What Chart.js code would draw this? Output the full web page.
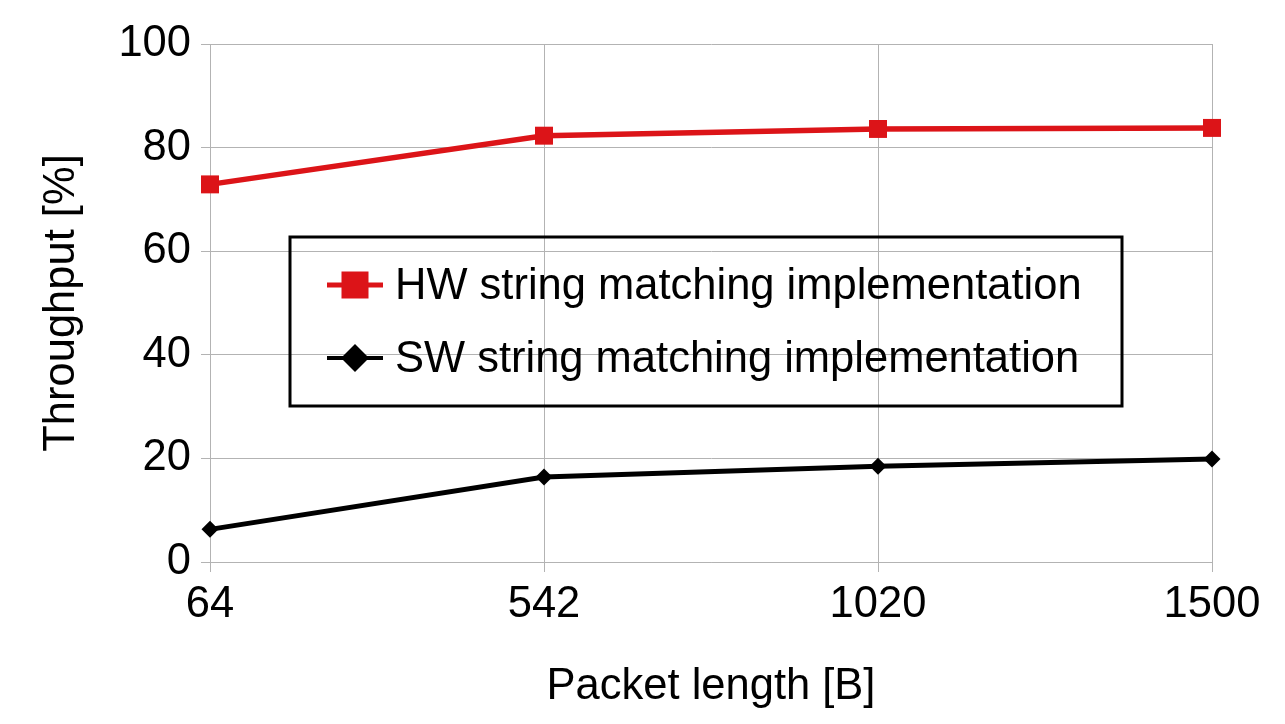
<!DOCTYPE html>
<html lang="en">
<head>
  <meta charset="UTF-8">
  <title>Throughput vs packet length</title>
  <script src="https://cdn.jsdelivr.net/npm/chart.js"></script>
  <style>
    html, body { margin: 0; padding: 0; background: #fff; }
    #wrap { width: 1285px; height: 724px; }
  </style>
</head>
<body>
  <div id="wrap"><canvas id="myLineChart"></canvas></div>

  <script>
    // data
    const packetLengths = ['64', '542', '1020', '1500'];
    const hwValues = [72.9, 82.3, 83.6, 83.8];
    const swValues = [6.3, 16.4, 18.5, 19.9];
    const seriesNames = ['HW string matching implementation', 'SW string matching implementation'];
    const yTicks = [0, 20, 40, 60, 80, 100];

    const RED = '#dc1418';
    const FONT = "'Liberation Sans', Arial, sans-serif";
    const FS = 43.5;

    // legend box drawn inside the plot, like the original
    const boxLegend = {
      id: 'boxLegend',
      afterDraw(chart) {
        const ctx = chart.ctx;
        const a = chart.chartArea;
        const x0 = a.left + 80, y0 = a.top + 193, w = 832, h = 169;
        ctx.save();
        ctx.strokeStyle = '#000';
        ctx.lineWidth = 3;
        ctx.strokeRect(x0, y0, w, h);

        const rows = [
          { text: seriesNames[0], color: RED, style: 'square', lw: 5, y: y0 + 48 },
          { text: seriesNames[1], color: '#000', style: 'diamond', lw: 4, y: y0 + 121 }
        ];
        rows.forEach(r => {
          const lx0 = x0 + 37, lx1 = x0 + 93, mx = x0 + 65;
          ctx.strokeStyle = r.color;
          ctx.lineWidth = r.lw;
          ctx.beginPath();
          ctx.moveTo(lx0, r.y);
          ctx.lineTo(lx1, r.y);
          ctx.stroke();
          ctx.fillStyle = r.color;
          if (r.style === 'square') {
            ctx.fillRect(mx - 13.5, r.y - 13.5, 27, 27);
          } else {
            ctx.beginPath();
            ctx.moveTo(mx, r.y - 14);
            ctx.lineTo(mx + 14, r.y);
            ctx.lineTo(mx, r.y + 14);
            ctx.lineTo(mx - 14, r.y);
            ctx.closePath();
            ctx.fill();
          }
          ctx.fillStyle = '#000';
          ctx.font = FS + 'px ' + FONT;
          ctx.textBaseline = 'middle';
          ctx.textAlign = 'left';
          ctx.fillText(r.text, x0 + 105, r.y + 2);
        });
        ctx.restore();
      }
    };

    const ctx = document.getElementById('myLineChart').getContext('2d');
    new Chart(ctx, {
      type: 'line',
      data: {
        labels: packetLengths,
        datasets: [{
          label: seriesNames[0],
          data: hwValues,
          borderColor: RED,
          backgroundColor: RED,
          borderWidth: 5.5,
          pointStyle: 'rect',
          pointRadius: 12.7,
          pointBorderWidth: 0,
          tension: 0,
          clip: false
        }, {
          label: seriesNames[1],
          data: swValues,
          borderColor: '#000',
          backgroundColor: '#000',
          borderWidth: 5,
          pointStyle: 'rectRot',
          pointRadius: 8.5,
          pointBorderWidth: 0,
          tension: 0,
          clip: false
        }]
      },
      plugins: [boxLegend],
      options: {
        responsive: true,
        maintainAspectRatio: false,
        animation: false,
        layout: {
          padding: { left: 32, right: 73, top: 44, bottom: 8 }
        },
        plugins: {
          legend: { display: false },
          tooltip: { enabled: false }
        },
        scales: {
          x: {
            afterFit: s => { s.height = 154; },
            grid: { color: '#b3b3b3', lineWidth: 1, tickLength: 10 },
            border: { color: '#b3b3b3' },
            ticks: {
              color: '#000',
              font: { family: FONT, size: FS },
              padding: 7,
              maxRotation: 0
            },
            title: {
              display: true,
              text: 'Packet length [B]',
              color: '#000',
              font: { family: FONT, size: FS },
              padding: { top: 0, bottom: 3 }
            }
          },
          y: {
            min: 0,
            max: 100,
            afterFit: s => { s.width = 178; },
            afterBuildTicks: s => { s.ticks = yTicks.map(v => ({ value: v })); },
            grid: { color: '#b3b3b3', lineWidth: 1, tickLength: 9 },
            border: { color: '#b3b3b3' },
            ticks: {
              color: '#000',
              font: { family: FONT, size: FS },
              padding: 10
            },
            title: {
              display: true,
              text: 'Throughput [%]',
              color: '#000',
              font: { family: FONT, size: FS },
              padding: { top: 4, bottom: 4 }
            }
          }
        }
      }
    });
  </script>
</body>
</html>
